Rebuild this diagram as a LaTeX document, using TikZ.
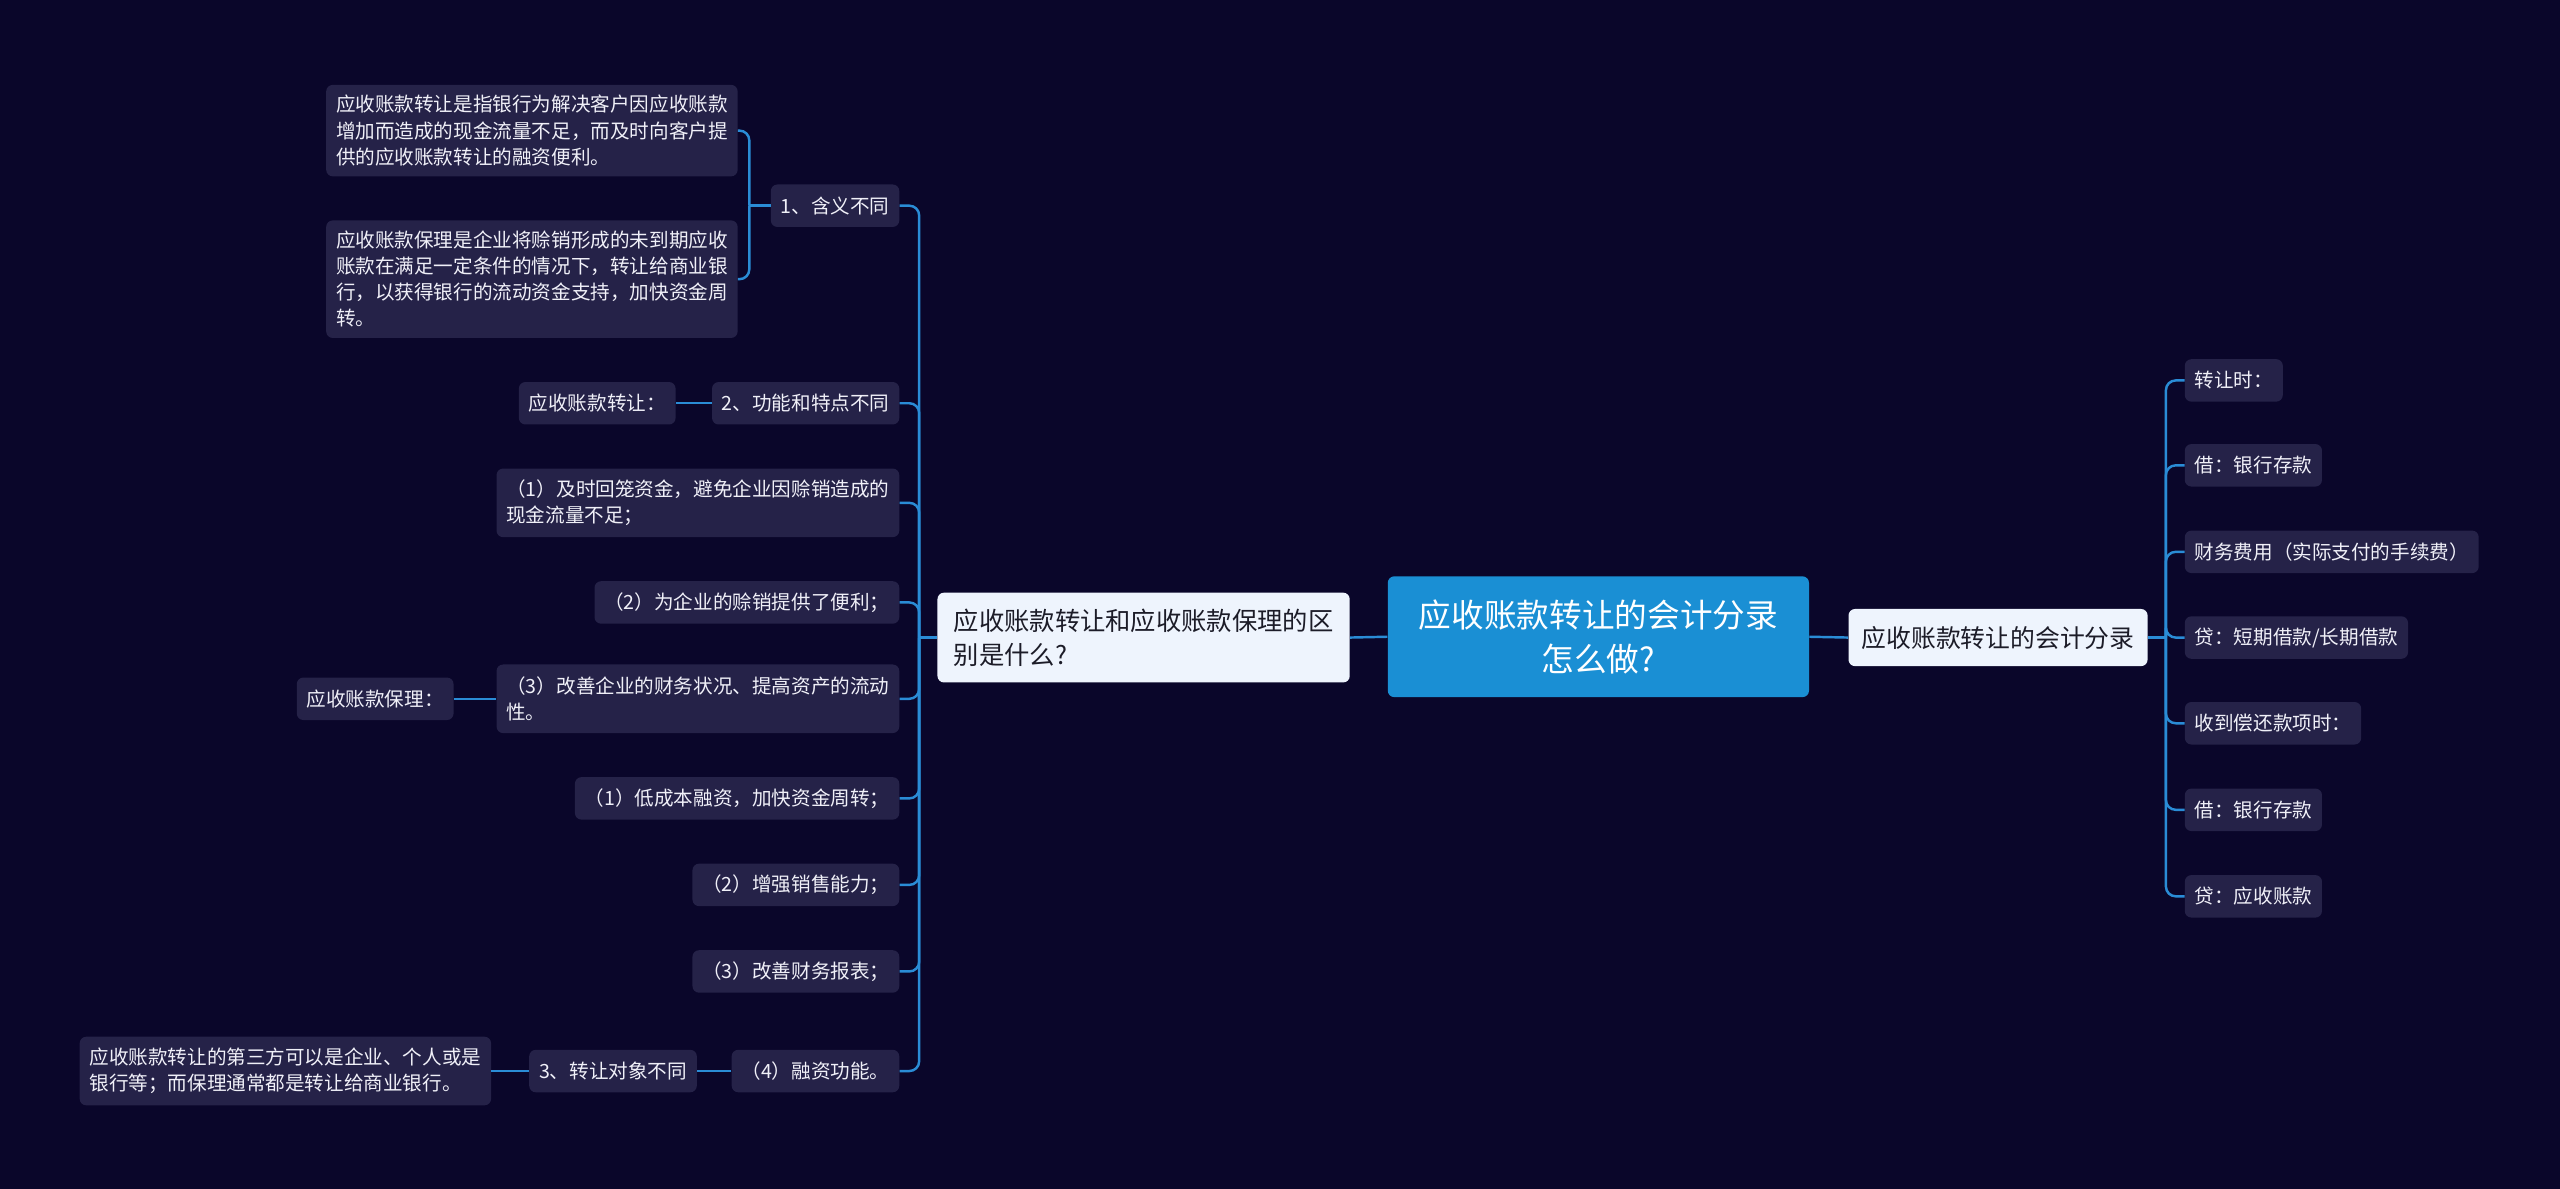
\documentclass[tikz,border=0pt]{standalone}
\usepackage{fontspec}
\setmainfont{Noto Sans CJK SC}
\definecolor{bgc}{RGB}{10,6,42}
\definecolor{leafc}{RGB}{37,34,72}
\definecolor{linec}{RGB}{42,140,214}
\definecolor{rootc}{RGB}{26,143,212}
\definecolor{mainc}{RGB}{238,244,253}
\definecolor{maintext}{RGB}{28,28,40}
\definecolor{leaftext}{RGB}{240,240,248}
\begin{document}
\begin{tikzpicture}[x=1pt,y=-1pt,
  leaf/.style={fill=leafc, text=leaftext, rounded corners=4pt, inner xsep=6pt, inner ysep=0pt, align=left, font=\fontsize{12}{16}\selectfont},
  lone/.style={leaf, minimum height=26pt},
  ltwo/.style={leaf, minimum height=42pt},
  lthree/.style={leaf, minimum height=56pt},
  lfour/.style={leaf, minimum height=72pt},
  mainbox/.style={fill=mainc, text=maintext, rounded corners=4pt, inner ysep=0pt, align=left},
  conn/.style={draw=linec, line width=1.5pt},
  branch/.style={conn, rounded corners=6pt}]
\useasboundingbox (0,0) rectangle (1568,728);
\fill[bgc] (0,0) rectangle (1568,728);

% root and main branches
\node[fill=rootc, text=white, rounded corners=4pt, minimum width=258pt, minimum height=74pt, align=center, font=\fontsize{20}{27}\selectfont] (root) at (979,390) {应收账款转让的会计分录\\怎么做?};
\node[mainbox, anchor=west, inner xsep=10pt, minimum height=55pt, font=\fontsize{15.5}{21}\selectfont] (lm) at (574,390.5) {应收账款转让和应收账款保理的区\\别是什么?};
\node[mainbox, anchor=west, inner xsep=8pt, minimum height=35pt, font=\fontsize{15.2}{20}\selectfont] (rm) at (1132,390.5) {应收账款转让的会计分录};

\draw[conn] (root.west) -- (lm.east);
\draw[conn] (root.east) -- (rm.west);

% left children
\node[lone, anchor=east] (c1) at (551,126) {1、含义不同};
\node[lone, anchor=east] (c2) at (551,247) {2、功能和特点不同};
\node[ltwo, anchor=east] (c3) at (551,308) {（1）及时回笼资金，避免企业因赊销造成的\\现金流量不足；};
\node[lone, anchor=east] (c4) at (551,369) {（2）为企业的赊销提供了便利；};
\node[ltwo, anchor=east] (c5) at (551,428) {（3）改善企业的财务状况、提高资产的流动\\性。};
\node[lone, anchor=east] (c6) at (551,489) {（1）低成本融资，加快资金周转；};
\node[lone, anchor=east] (c7) at (551,542) {（2）增强销售能力；};
\node[lone, anchor=east] (c8) at (551,595) {（3）改善财务报表；};
\node[lone, anchor=east] (c9) at (551,656) {（4）融资功能。};

\coordinate (jL) at ([xshift=-11pt]lm.west);
\draw[conn] (lm.west) -- (jL);
\foreach \c in {c1,c2,c3,c4,c5,c6,c7,c8,c9}
  \draw[branch] (jL) |- (\c.east);

% sub children
\node[lthree, anchor=east] (a1) at (452,80) {应收账款转让是指银行为解决客户因应收账款\\增加而造成的现金流量不足，而及时向客户提\\供的应收账款转让的融资便利。};
\node[lfour, anchor=east] (a2) at (452,171) {应收账款保理是企业将赊销形成的未到期应收\\账款在满足一定条件的情况下，转让给商业银\\行，以获得银行的流动资金支持，加快资金周\\转。};
\coordinate (j1) at ([xshift=-13pt]c1.west);
\draw[conn] (c1.west) -- (j1);
\draw[branch] (j1) |- (a1.east);
\draw[branch] (j1) |- (a2.east);

\node[lone, anchor=east] (b1) at (414,247) {应收账款转让：};
\draw[conn] (c2.west) -- (b1.east);

\node[lone, anchor=east] (b2) at (278,428) {应收账款保理：};
\draw[conn] (c5.west) -- (b2.east);

\node[lone, anchor=east] (b3) at (427,656) {3、转让对象不同};
\draw[conn] (c9.west) -- (b3.east);

\node[ltwo, anchor=east] (b4) at (301,656) {应收账款转让的第三方可以是企业、个人或是\\银行等；而保理通常都是转让给商业银行。};
\draw[conn] (b3.west) -- (b4.east);

% right children
\node[lone, anchor=west] (r1) at (1338,233) {转让时：};
\node[lone, anchor=west] (r2) at (1338,285) {借：银行存款};
\node[lone, anchor=west] (r3) at (1338,338) {财务费用（实际支付的手续费）};
\node[lone, anchor=west] (r4) at (1338,390.5) {贷：短期借款/长期借款};
\node[lone, anchor=west] (r5) at (1338,443) {收到偿还款项时：};
\node[lone, anchor=west] (r6) at (1338,496) {借：银行存款};
\node[lone, anchor=west] (r7) at (1338,549) {贷：应收账款};

\coordinate (jR) at ([xshift=11pt]rm.east);
\draw[conn] (rm.east) -- (jR);
\foreach \c in {r1,r2,r3,r4,r5,r6,r7}
  \draw[branch] (jR) |- (\c.west);
\end{tikzpicture}
\end{document}
